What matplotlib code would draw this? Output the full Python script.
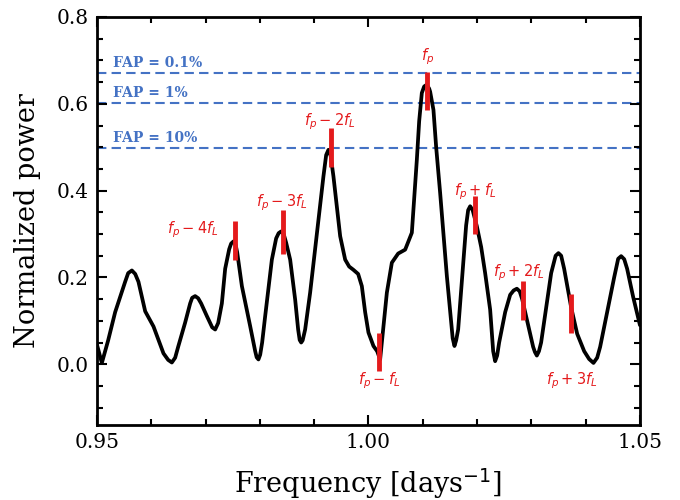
import matplotlib
matplotlib.use("Agg")
import matplotlib.pyplot as plt
from matplotlib.ticker import MultipleLocator

# Periodogram curve
freq = [0.95000, 0.95090, 0.95206, 0.95335, 0.95519, 0.95575, 0.95643, 0.95704,
        0.95764, 0.95888, 0.96041, 0.96225, 0.96311, 0.96379, 0.96440, 0.96495,
        0.96624, 0.96716, 0.96753, 0.96808, 0.96864, 0.96919, 0.97024, 0.97122,
        0.97177, 0.97232, 0.97300, 0.97361, 0.97435, 0.97471, 0.97514, 0.97554,
        0.97582, 0.97669, 0.97821, 0.97914, 0.97941, 0.97974, 0.98006, 0.98042,
        0.98098, 0.98221, 0.98300, 0.98346, 0.98392, 0.98438, 0.98484, 0.98558,
        0.98650, 0.98705, 0.98733, 0.98761, 0.98788, 0.98834, 0.98926, 0.99079,
        0.99171, 0.99221, 0.99263, 0.99304, 0.99355, 0.99479, 0.99571, 0.99645,
        0.99718, 0.99810, 0.99878, 0.99939, 1.00000, 1.00092, 1.00160, 1.00215,
        1.00271, 1.00339, 1.00431, 1.00547, 1.00676, 1.00799, 1.00842, 1.00891,
        1.00934, 1.00983, 1.01026, 1.01075, 1.01118, 1.01136, 1.01197, 1.01247,
        1.01320, 1.01444, 1.01505, 1.01551, 1.01584, 1.01615, 1.01652, 1.01726,
        1.01799, 1.01836, 1.01873, 1.01919, 1.01996, 1.02076, 1.02149, 1.02241,
        1.02297, 1.02333, 1.02370, 1.02407, 1.02518, 1.02610, 1.02674, 1.02733,
        1.02785, 1.02831, 1.02941, 1.03033, 1.03066, 1.03101, 1.03140, 1.03180,
        1.03273, 1.03365, 1.03447, 1.03499, 1.03549, 1.03604, 1.03733, 1.03844,
        1.03973, 1.04064, 1.04144, 1.04212, 1.04267, 1.04396, 1.04525, 1.04599,
        1.04654, 1.04710, 1.04764, 1.04875, 1.05000]
power = [0.045, 0.003, 0.055, 0.120, 0.190, 0.210, 0.216, 0.208,
         0.190, 0.122, 0.087, 0.025, 0.010, 0.004, 0.015, 0.040,
         0.096, 0.140, 0.153, 0.157, 0.152, 0.140, 0.111, 0.085,
         0.080, 0.095, 0.140, 0.220, 0.265, 0.278, 0.283, 0.275,
         0.258, 0.180, 0.088, 0.030, 0.016, 0.011, 0.022, 0.050,
         0.111, 0.241, 0.290, 0.302, 0.306, 0.300, 0.280, 0.241,
         0.149, 0.080, 0.056, 0.050, 0.055, 0.080, 0.165, 0.333,
         0.433, 0.482, 0.494, 0.480, 0.433, 0.295, 0.241, 0.225,
         0.218, 0.208, 0.180, 0.120, 0.073, 0.042, 0.030, 0.011,
         0.080, 0.165, 0.234, 0.255, 0.264, 0.303, 0.380, 0.471,
         0.560, 0.625, 0.640, 0.644, 0.635, 0.628, 0.586, 0.500,
         0.395, 0.203, 0.120, 0.060, 0.042, 0.055, 0.080, 0.200,
         0.320, 0.355, 0.364, 0.355, 0.318, 0.270, 0.210, 0.126,
         0.030, 0.007, 0.020, 0.050, 0.120, 0.160, 0.170, 0.174,
         0.168, 0.150, 0.090, 0.040, 0.028, 0.020, 0.030, 0.050,
         0.130, 0.210, 0.250, 0.256, 0.250, 0.220, 0.131, 0.070,
         0.030, 0.012, 0.003, 0.015, 0.040, 0.120, 0.200, 0.243,
         0.249, 0.242, 0.220, 0.155, 0.090]

# False-alarm-probability levels
fap_levels = [0.672, 0.602, 0.499]
fap_labels = ["FAP = 0.1%", "FAP = 1%", "FAP = 10%"]

# Alias markers
marker_freq = [0.97536, 0.98422, 0.99308, 1.00194, 1.01080, 1.01966, 1.02852, 1.03738]
marker_low = [0.241, 0.255, 0.455, -0.016, 0.586, 0.299, 0.103, 0.073]
marker_high = [0.330, 0.356, 0.545, 0.073, 0.673, 0.387, 0.191, 0.161]
marker_labels = [r"$f_p-4f_L$", r"$f_p-3f_L$", r"$f_p-2f_L$", r"$f_p-f_L$",
                 r"$f_p$", r"$f_p+f_L$", r"$f_p+2f_L$", r"$f_p+3f_L$"]
label_x = [0.96773, 0.98405, 0.99295, 1.00196, 1.01090, 1.01965, 1.02762, 1.03745]
label_y = [0.310, 0.372, 0.559, -0.039, 0.708, 0.398, 0.211, -0.039]

fig = plt.figure(figsize=(6.8, 5.0), dpi=100)
ax = fig.add_axes([0.1426, 0.15, 0.7985, 0.816])

for lev, lab in zip(fap_levels, fap_labels):
    ax.axhline(lev, color="#4472C4", lw=1.5, dashes=(4.5, 2.5), zorder=1)
    ax.text(0.9530, lev + 0.006, lab, color="#4472C4", fontsize=10,
            family="DejaVu Serif", fontweight="bold", ha="left", va="bottom")

ax.plot(freq, power, color="black", lw=2.7, solid_joinstyle="round",
        solid_capstyle="round", zorder=2)

ax.vlines(marker_freq, marker_low, marker_high, color="#E41A1C", lw=3.5, zorder=3)
for x, y, t in zip(label_x, label_y, marker_labels):
    ax.text(x, y, t, color="#E41A1C", fontsize=10.5, ha="center", va="center")

ax.set_xlim(0.95, 1.05)
ax.set_ylim(-0.14, 0.8)
ax.xaxis.set_major_locator(MultipleLocator(0.05))
ax.xaxis.set_minor_locator(MultipleLocator(0.01))
ax.yaxis.set_major_locator(MultipleLocator(0.2))
ax.yaxis.set_minor_locator(MultipleLocator(0.05))
ax.tick_params(which="both", direction="in", top=True, right=True, width=1.5)
ax.tick_params(which="major", length=7, labelsize=14.5, pad=6)
ax.tick_params(which="minor", length=4)
for lab in ax.get_xticklabels() + ax.get_yticklabels():
    lab.set_family("DejaVu Serif")
for s in ax.spines.values():
    s.set_linewidth(2)

ax.set_xlabel(r"Frequency [days$^{-1}$]", family="DejaVu Serif", fontsize=19.5,
              labelpad=10)
ax.set_ylabel("Normalized power", family="DejaVu Serif", fontsize=19.5,
              labelpad=11)

fig.savefig("out.png", dpi=100)
